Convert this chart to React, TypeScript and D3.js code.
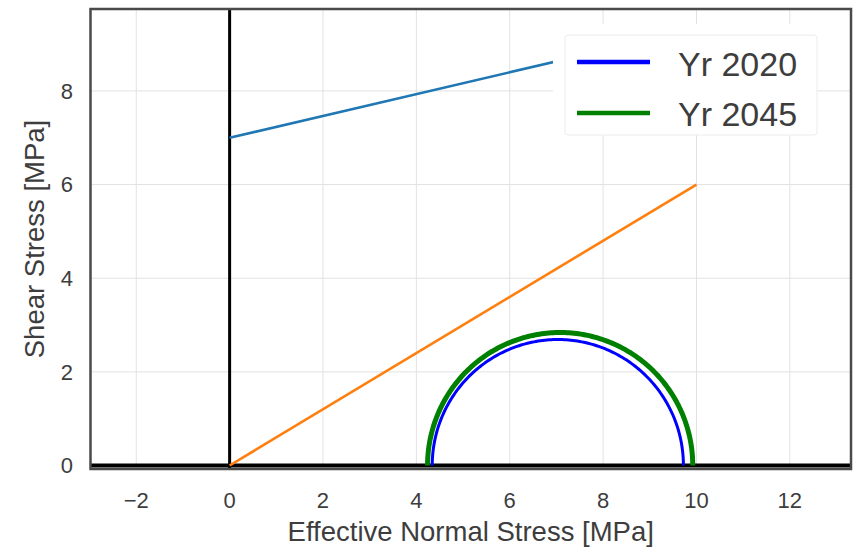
import React from "react";
import * as d3 from "d3";

// Mohr circles: principal effective stresses per year [MPa]
const years = ["Yr 2020", "Yr 2045"];
const sigma3 = [4.34, 4.24];
const sigma1 = [9.72, 9.92];
const circleColors = ["#0000ff", "#008000"];
const circleWidths = [3, 5];

// Failure envelopes: [normal stress, shear stress] endpoints
const envelopeCohesive = [[0, 7], [10, 9.33]];
const envelopeFrictional = [[0, 0], [10, 6]];

const xTicks = [-2, 0, 2, 4, 6, 8, 10, 12];
const yTicks = [0, 2, 4, 6, 8];

const W = 855;
const H = 552;
const left = 90.5;
const right = 851;
const top = 9;
const bottom = 469;

export default function App() {
  const x = d3.scaleLinear().domain([-2.98, 13.31]).range([left, right]);
  const y = d3.scaleLinear().domain([-0.075, 9.75]).range([bottom, top]);
  const line = d3
    .line<number[]>()
    .x((d) => x(d[0]))
    .y((d) => y(d[1]));

  const semicircle = (s3: number, s1: number) => {
    const c = (s1 + s3) / 2;
    const r = (s1 - s3) / 2;
    const pts = d3.range(0, 181).map((deg) => {
      const t = (deg * Math.PI) / 180;
      return [c + r * Math.cos(t), r * Math.sin(t)];
    });
    return line(pts) || "";
  };

  const textColor = "#3d3d3d";
  const font = "'Liberation Sans', Arial, sans-serif";

  return (
    <svg
      width={W}
      height={H}
      style={{ position: "absolute", left: 0, top: 0, background: "#fff" }}
      fontFamily={font}
    >
      <defs>
        <clipPath id="plot">
          <rect x={left} y={top} width={right - left} height={bottom - top} />
        </clipPath>
      </defs>
      {/* grid */}
      <g stroke="#e2e2e2" strokeWidth={1}>
        {xTicks.map((t) => (
          <line key={"gx" + t} x1={x(t)} x2={x(t)} y1={top} y2={bottom} />
        ))}
        {yTicks.map((t) => (
          <line key={"gy" + t} x1={left} x2={right} y1={y(t)} y2={y(t)} />
        ))}
      </g>
      <g clipPath="url(#plot)">
        {/* reference axes */}
        <line x1={x(0)} x2={x(0)} y1={top} y2={bottom} stroke="#000" strokeWidth={3} />
        <line x1={left} x2={right} y1={y(0)} y2={y(0)} stroke="#000" strokeWidth={4} />
        {/* envelopes */}
        <path d={line(envelopeCohesive) || ""} fill="none" stroke="#1f77b4" strokeWidth={2.6} />
        <path d={line(envelopeFrictional) || ""} fill="none" stroke="#ff7f0e" strokeWidth={2.6} />
        {/* Mohr circles */}
        {years.map((yr, i) => (
          <path
            key={yr}
            d={semicircle(sigma3[i], sigma1[i])}
            fill="none"
            stroke={circleColors[i]}
            strokeWidth={circleWidths[i]}
          />
        ))}
      </g>
      {/* frame */}
      <rect
        x={left}
        y={top}
        width={right - left}
        height={bottom - top}
        fill="none"
        stroke="#4a4a4a"
        strokeWidth={2.5}
      />
      {/* ticks */}
      <g fill={textColor} fontSize={22}>
        {xTicks.map((t) => (
          <text key={"tx" + t} x={x(t)} y={508} textAnchor="middle">
            {t < 0 ? "\u2212" + Math.abs(t) : String(t)}
          </text>
        ))}
        {yTicks.map((t) => (
          <text key={"ty" + t} x={73} y={y(t)} dy="0.36em" textAnchor="end">
            {String(t)}
          </text>
        ))}
      </g>
      {/* axis labels */}
      <text
        x={(left + right) / 2}
        y={541}
        textAnchor="middle"
        fontSize={27.5}
        fill={textColor}
      >
        Effective Normal Stress [MPa]
      </text>
      <text
        transform={`translate(44,${(top + bottom) / 2}) rotate(-90)`}
        textAnchor="middle"
        fontSize={27.5}
        fill={textColor}
      >
        Shear Stress [MPa]
      </text>
      {/* legend */}
      <g>
        <rect x={553} y={24} width={264} height={111} fill="#fff" />
        <rect x={565} y={35} width={252} height={100} fill="#fff" stroke="#ececec" strokeWidth={1} rx={3} />
        {years.map((yr, i) => (
          <g key={"lg" + yr}>
            <line
              x1={577}
              x2={650}
              y1={62 + i * 51}
              y2={62 + i * 51}
              stroke={circleColors[i]}
              strokeWidth={4.5}
            />
            <text x={678} y={75.5 + i * 50} fontSize={34} fill={textColor}>
              {yr}
            </text>
          </g>
        ))}
      </g>
    </svg>
  );
}
